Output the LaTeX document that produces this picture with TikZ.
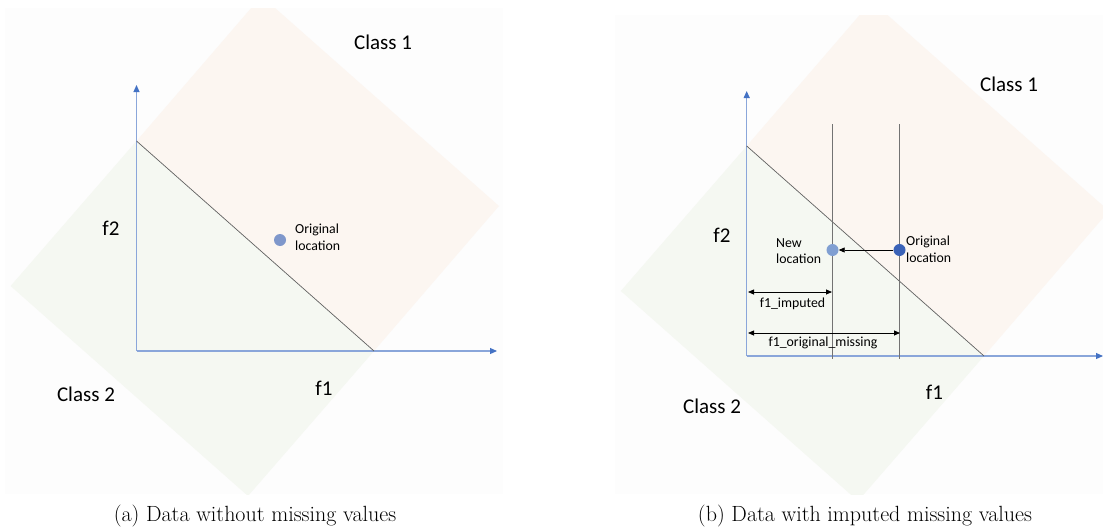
\documentclass[tikz,border=0pt]{standalone}
\usepackage{fontspec}
\newfontfamily\carl{Carlito}
\usetikzlibrary{arrows.meta}
\definecolor{bgc}{HTML}{FDFDFD}
\definecolor{clsone}{HTML}{FCF6F1}
\definecolor{clstwo}{HTML}{F5F8F2}
\definecolor{axisc}{HTML}{8AA6DA}
\definecolor{axtip}{HTML}{4472C4}
\definecolor{ptlight}{HTML}{7F97CB}
\definecolor{ptnew}{HTML}{809FD2}
\definecolor{ptorig}{HTML}{3A62B8}
\begin{document}
\begin{tikzpicture}[x=1pt,y=-1pt,
  axisline/.style={draw=axisc, line width=1.1pt, -{Triangle[length=7pt,width=6pt,color=axtip,fill=axtip]}},
  bigtext/.style={font=\carl\fontsize{21}{25}\selectfont, inner sep=0pt},
  smalltext/.style={font=\carl\fontsize{13.8}{16.5}\selectfont, align=left, inner sep=0pt},
  captext/.style={font=\fontsize{22}{26}\selectfont, inner sep=0pt},
  boundary/.style={draw=black!62, line width=0.7pt},
  guide/.style={draw=black!55, line width=1pt},
  dimline/.style={draw=black, line width=0.8pt, {Triangle[length=6pt,width=5pt]}-{Triangle[length=6pt,width=5pt]}},
  moveline/.style={draw=black, line width=0.8pt, -{Triangle[length=6pt,width=5pt]}},
  dot/.style={circle, minimum size=12pt, inner sep=0pt}]
\useasboundingbox (0,0) rectangle (1103,530);

% ---------- panel (a) ----------
\fill[bgc] (5,8) rectangle (503,494);
\begin{scope}
  \clip (5,8) rectangle (503,494);
  \fill[clstwo] (136.5,141) -- (374,351) -- (248,496) -- (10.6,286) -- cycle;
  \fill[clsone] (136.5,141) -- (374,351) -- (499,206) -- (261.5,-4) -- cycle;
\end{scope}
\coordinate (aO) at (136.5,351);
\coordinate (aY) at (136.5,85);
\coordinate (aX) at (497,351);
\coordinate (aB1) at (136.5,141);
\coordinate (aB2) at (374,351);
\draw[axisline] (aO) -- (aY);
\draw[axisline] (aO) -- (aX);
\draw[boundary] (aB1) -- (aB2);
\node[dot, fill=ptlight] (apt) at (280,240) {};
\node[smalltext, anchor=west] (aorig) at (295,237.5) {Original\\location};
\node[bigtext] (acl1) at (383,42.5) {Class 1};
\node[bigtext] (acl2) at (86,394.5) {Class 2};
\node[bigtext] (af2) at (111,228.5) {f2};
\node[bigtext] (af1) at (324,388) {f1};
\node[captext] (acap) at (255,516) {(a) Data without missing values};

% ---------- panel (b) ----------
\fill[bgc] (615,15) rectangle (1103,494);
\begin{scope}
  \clip (615,15) rectangle (1103,494);
  \fill[clstwo] (746.7,146) -- (984,356) -- (858,501) -- (620.8,291) -- cycle;
  \fill[clsone] (746.7,146) -- (984,356) -- (1109,211) -- (871.7,1) -- cycle;
\end{scope}
\coordinate (bO) at (746.7,356);
\coordinate (bY) at (746.7,91);
\coordinate (bX) at (1103,356);
\coordinate (bB1) at (746.7,146);
\coordinate (bB2) at (984,356);
\coordinate (gAt) at (832,124);
\coordinate (gAb) at (832,359);
\coordinate (gBt) at (899,124);
\coordinate (gBb) at (899,359);
\draw[axisline] (bO) -- (bY);
\draw[axisline] (bO) -- (bX);
\draw[boundary] (bB1) -- (bB2);
\draw[guide] (gAt) -- (gAb);
\draw[guide] (gBt) -- (gBb);
\node[dot, fill=ptnew] (bnew) at (832.5,250) {};
\node[dot, fill=ptorig] (borig) at (899.5,250) {};
\draw[moveline] (borig) -- (bnew);
\node[smalltext, anchor=west] (bnewt) at (776,251) {New\\location};
\node[smalltext, anchor=west] (borigt) at (906,249.5) {Original\\location};
\coordinate (d1l) at (748,292);
\coordinate (d1r) at (832,292);
\coordinate (d2l) at (748,333);
\coordinate (d2r) at (900,333);
\draw[dimline] (d1l) -- (d1r);
\draw[dimline] (d2l) -- (d2r);
\node[smalltext] (bimp) at (792.5,304) {f1\_imputed};
\node[smalltext] (bmiss) at (823,342.5) {f1\_original\_missing};
\node[bigtext] (bcl1) at (1009,84) {Class 1};
\node[bigtext] (bcl2) at (712,406) {Class 2};
\node[bigtext] (bf2) at (722,235) {f2};
\node[bigtext] (bf1) at (934.5,392) {f1};
\node[captext] (bcap) at (865,516) {(b) Data with imputed missing values};
\end{tikzpicture}
\end{document}
